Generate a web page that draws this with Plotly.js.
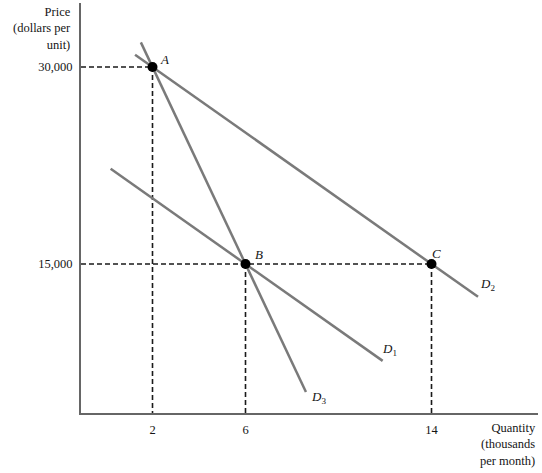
<!DOCTYPE html>
<html>
<head>
<meta charset="utf-8">
<script src="https://cdn.plot.ly/plotly-3.0.1.min.js"></script>
<style>html,body{margin:0;padding:0;background:#fff;}#chart{width:542px;height:473px;}</style>
</head>
<body>
<div id="chart"></div>
<script>
// Quantity (thousands per month) and price (dollars per unit)
const pointNames = ["A", "B", "C"];
const pointQty = [2, 6, 14];
const pointPrice = [30000, 15000, 15000];

const qtyTicks = [2, 6, 14];
const qtyTickText = ["2", "6", "14"];
const priceTicks = [15000, 30000];
const priceTickText = ["15,000", "30,000"];

// Demand curves: endpoints (quantity, price)
const d1Qty = [0.2, 11.9];
const d1Price = [22250, 7625];
const d2Qty = [1.25, 16.0];
const d2Price = [30940, 12500];
const d3Qty = [1.5, 8.6];
const d3Price = [31875, 5250];

const xRange = [-1.075, 18.58];
const yRange = [3655, 34873];

const lineColor = '#7a7a7a';
const serif = 'Liberation Serif, DejaVu Serif, serif';
const txt = '#151515';

const guideX = [], guideY = [];
function seg(x0, y0, x1, y1) { guideX.push(x0, x1, null); guideY.push(y0, y1, null); }
// A guides
seg(xRange[0], pointPrice[0], pointQty[0], pointPrice[0]);
seg(pointQty[0], pointPrice[0], pointQty[0], yRange[0]);
// B & C guides
seg(xRange[0], pointPrice[1], pointQty[2], pointPrice[2]);
seg(pointQty[1], pointPrice[1], pointQty[1], yRange[0]);
seg(pointQty[2], pointPrice[2], pointQty[2], yRange[0]);

const traces = [
  {x: guideX, y: guideY, mode: 'lines', line: {color: '#1a1a1a', width: 1.6, dash: '5px,3px'}, hoverinfo: 'skip'},
  {x: d1Qty, y: d1Price, mode: 'lines', line: {color: lineColor, width: 2.5}},
  {x: d2Qty, y: d2Price, mode: 'lines', line: {color: lineColor, width: 2.5}},
  {x: d3Qty, y: d3Price, mode: 'lines', line: {color: lineColor, width: 2.5}},
  {x: pointQty, y: pointPrice, mode: 'markers', marker: {color: '#000', size: 10}}
];

const pointShifts = [[12, 8], [13, 10], [5, 11]];
const annotations = pointNames.map((n, i) => ({
  x: pointQty[i], y: pointPrice[i], xref: 'x', yref: 'y', text: '<i>' + n + '</i>',
  showarrow: false, xshift: pointShifts[i][0], yshift: pointShifts[i][1],
  font: {family: serif, size: 13, color: txt}
}));
annotations.push(
  {x: d2Qty[1], y: d2Price[1], xref: 'x', yref: 'y', text: '<i>D</i><sub>2</sub>', showarrow: false, xshift: 9, yshift: 12, font: {family: serif, size: 13, color: txt}},
  {x: d1Qty[1], y: d1Price[1], xref: 'x', yref: 'y', text: '<i>D</i><sub>1</sub>', showarrow: false, xshift: 7, yshift: 11, font: {family: serif, size: 13, color: txt}},
  {x: d3Qty[1], y: d3Price[1], xref: 'x', yref: 'y', text: '<i>D</i><sub>3</sub>', showarrow: false, xshift: 13, yshift: -5, font: {family: serif, size: 13, color: txt}},
  {x: -0.017, y: 1.0, xref: 'paper', yref: 'paper', xanchor: 'right', yanchor: 'top', align: 'right', showarrow: false,
   text: 'Price<br>(dollars per<br>unit)', font: {family: serif, size: 12.5, color: txt}},
  {x: 1.0, y: -0.015, xref: 'paper', yref: 'paper', xanchor: 'right', yanchor: 'top', align: 'right', showarrow: false,
   text: 'Quantity<br>(thousands<br>per month)', font: {family: serif, size: 12.5, color: txt}}
);

const layout = {
  width: 542, height: 473,
  margin: {l: 81, r: 4, t: 3, b: 60},
  paper_bgcolor: '#fff', plot_bgcolor: '#fff',
  showlegend: false,
  xaxis: {range: xRange, showgrid: false, zeroline: false, showline: true, linecolor: '#666', linewidth: 2,
    tickvals: qtyTicks, ticktext: qtyTickText, ticks: '', ticklabelstandoff: 4,
    tickfont: {family: serif, size: 12.5, color: txt}},
  yaxis: {range: yRange, showgrid: false, zeroline: false, showline: true, linecolor: '#666', linewidth: 2,
    tickvals: priceTicks, ticktext: priceTickText, ticks: '', ticklabelstandoff: 4,
    tickfont: {family: serif, size: 12.5, color: txt}},
  annotations: annotations
};

Plotly.newPlot('chart', traces, layout, {staticPlot: true, displayModeBar: false});
</script>
</body>
</html>
